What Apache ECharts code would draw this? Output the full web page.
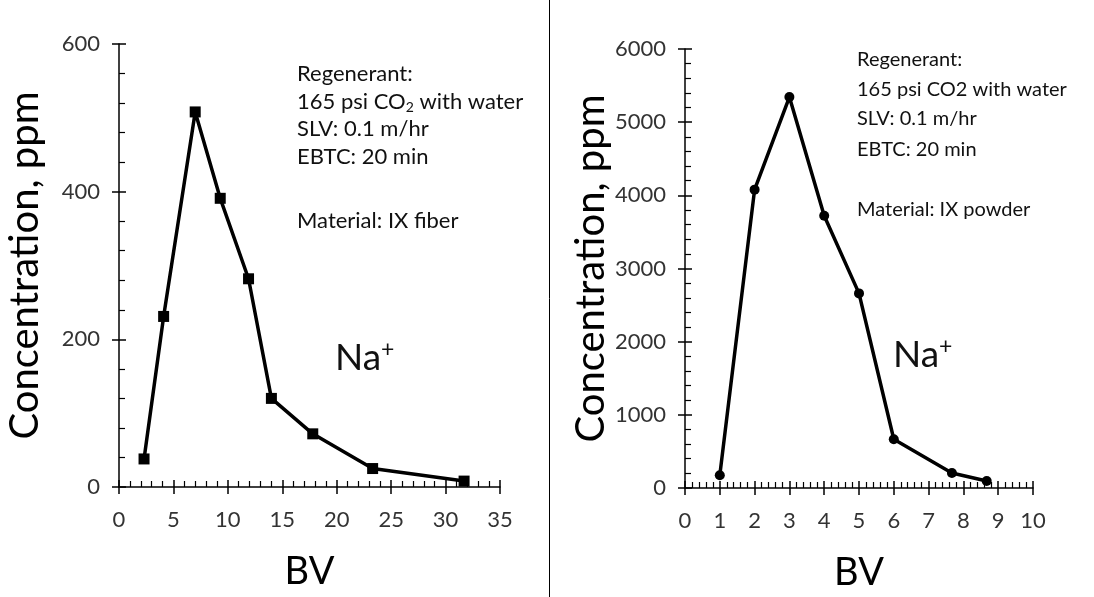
<!DOCTYPE html>
<html>
<head>
<meta charset="utf-8">
<script src="https://cdn.jsdelivr.net/npm/echarts@6/dist/echarts.min.js"></script>
<style>
  html, body { margin: 0; padding: 0; background: #fff; }
  #main { width: 1094px; height: 597px; }
</style>
</head>
<body>
<div id="main"></div>
<script>
// left panel: IX fiber
const fiberBV = [2.3, 4.1, 7.0, 9.3, 11.9, 14.0, 17.8, 23.3, 31.7]
const fiberNa = [38, 231, 508, 391, 282, 120, 72, 25, 8]
// right panel: IX powder
const powderBV = [1.0, 2.0, 3.0, 4.0, 5.0, 6.0, 7.67, 8.67]
const powderNa = [174, 4078, 5343, 3722, 2660, 666, 205, 96]

const FONT = 'Lato'
const tickColor = '#333'

const chart = echarts.init(document.getElementById('main'))

function pairs(xs, ys) {
  return xs.map((x, i) => [x, ys[i]])
}

// main axis: line, outside ticks, labels
function mainAxis(gridIndex, max, interval, isY, name) {
  const ax = {
    type: 'value',
    gridIndex: gridIndex,
    min: 0,
    max: max,
    interval: interval,
    position: isY ? 'left' : 'bottom',
    axisLine: { show: true, lineStyle: { color: '#000', width: 1.5 } },
    axisTick: { show: true, inside: false, length: 7, lineStyle: { color: '#000', width: 1.5 } },
    axisLabel: {
      show: true, color: tickColor, fontFamily: FONT, fontSize: 22,
      margin: isY ? 19 : 22,
      formatter: (v) => String(v)
    },
    splitLine: { show: false },
    name: name,
    nameLocation: 'middle',
    nameTextStyle: { color: '#000', fontFamily: FONT, fontSize: isY ? 40 : 38 },
    nameGap: isY ? 74 : 66
  }
  if (isY) ax.nameRotate = 90
  return ax
}

// overlay axis: inside major ticks + minor ticks
function overlayAxis(gridIndex, max, interval, isY) {
  return {
    type: 'value',
    gridIndex: gridIndex,
    min: 0,
    max: max,
    interval: interval,
    position: isY ? 'left' : 'bottom',
    axisLine: { show: false },
    axisTick: { show: true, inside: true, length: 7, lineStyle: { color: '#000', width: 1.5 } },
    minorTick: { show: true, splitNumber: 5, length: 6, lineStyle: { color: '#000', width: 1.2 } },
    axisLabel: { show: false },
    splitLine: { show: false }
  }
}

function text(x, y, str, size, rich) {
  return {
    type: 'text',
    x: x,
    y: y,
    style: {
      text: str,
      fill: '#111',
      font: size + 'px ' + FONT,
      verticalAlign: 'middle',
      rich: rich
    }
  }
}

const subRich = {
  n: { fontFamily: FONT, fontSize: 22, fill: '#111' },
  sub: { fontFamily: FONT, fontSize: 14, fill: '#111', padding: [11, 0, 0, 0] }
}
const supRich = {
  n: { fontFamily: FONT, fontSize: 37, fill: '#111' },
  sup: { fontFamily: FONT, fontSize: 23, fill: '#111', padding: [0, 0, 16, 0] }
}

chart.setOption({
  animation: false,
  grid: [
    { left: 119, top: 44, width: 381, height: 443, outerBoundsMode: 'none' },
    { left: 685, top: 49, width: 348, height: 439, outerBoundsMode: 'none' }
  ],
  xAxis: [
    mainAxis(0, 35, 5, false, 'BV'),
    overlayAxis(0, 35, 5, false),
    mainAxis(1, 10, 1, false, 'BV'),
    overlayAxis(1, 10, 1, false)
  ],
  yAxis: [
    mainAxis(0, 600, 200, true, 'Concentration, ppm'),
    overlayAxis(0, 600, 200, true),
    mainAxis(1, 6000, 1000, true, 'Concentration, ppm'),
    overlayAxis(1, 6000, 1000, true)
  ],
  series: [
    {
      type: 'line',
      xAxisIndex: 0,
      yAxisIndex: 0,
      data: pairs(fiberBV, fiberNa),
      symbol: 'rect',
      symbolSize: 11,
      lineStyle: { color: '#000', width: 3.5 },
      itemStyle: { color: '#000' }
    },
    {
      type: 'line',
      xAxisIndex: 2,
      yAxisIndex: 2,
      data: pairs(powderBV, powderNa),
      symbol: 'circle',
      symbolSize: 10,
      lineStyle: { color: '#000', width: 3.5 },
      itemStyle: { color: '#000' }
    }
  ],
  graphic: [
    // divider
    { type: 'line', shape: { x1: 549.5, y1: 0, x2: 549.5, y2: 597 }, style: { stroke: '#000', lineWidth: 1 } },
    // left notes
    text(297, 74, 'Regenerant:', 22),
    text(297, 102, '{n|165 psi CO}{sub|2}{n| with water}', 22, subRich),
    text(297, 129, 'SLV: 0.1 m/hr', 22),
    text(297, 157, 'EBTC: 20 min', 22),
    text(297, 221, 'Material: IX fiber', 22),
    text(335, 358, '{n|Na}{sup|+}', 37, supRich),
    // right notes
    text(857, 60, 'Regenerant:', 20),
    text(857, 90, '165 psi CO2 with water', 20),
    text(857, 119, 'SLV: 0.1 m/hr', 20),
    text(857, 150, 'EBTC: 20 min', 20),
    text(857, 210, 'Material: IX powder', 20),
    text(893, 355, '{n|Na}{sup|+}', 37, supRich)
  ]
})
</script>
</body>
</html>
